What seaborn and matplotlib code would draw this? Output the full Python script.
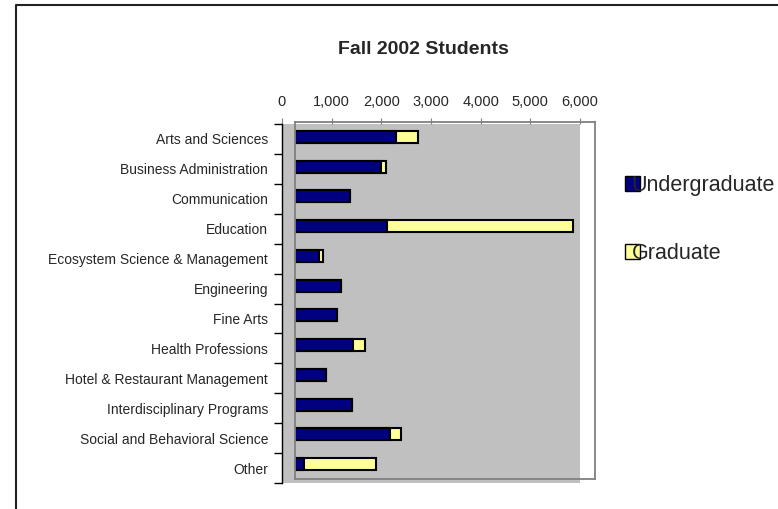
import numpy as np
import pandas
import seaborn as sns
import matplotlib.pyplot as plt
from matplotlib.patches import Patch
from matplotlib.lines import Line2D
from matplotlib.ticker import FuncFormatter

# chart data
categories = ["Arts and Sciences", "Business Administration", "Communication", "Education",
              "Ecosystem Science & Management", "Engineering", "Fine Arts", "Health Professions",
              "Hotel & Restaurant Management", "Interdisciplinary Programs",
              "Social and Behavioral Science", "Other"]
undergraduate = [2010, 1725, 1095, 1845, 470, 910, 845, 1150, 615, 1135, 1905, 170]
graduate = [455, 85, 0, 3710, 80, 0, 0, 250, 0, 0, 215, 1455]
xTicks = [0, 1000, 2000, 3000, 4000, 5000, 6000]

navy = "#000080"
paleYellow = "#FFFF99"
wallGray = "#C0C0C0"
frameGray = "#808080"


def main():
    sns.set_style("white")
    plt.rcParams['font.family'] = ['Liberation Sans', 'DejaVu Sans']

    W, H = 778, 509
    fig = plt.figure(figsize=(W / 100, H / 100), dpi=100)

    df = pandas.DataFrame({"Category": categories,
                           "Undergraduate": undergraduate,
                           "Graduate": graduate})
    df["Total"] = df["Undergraduate"] + df["Graduate"]

    # back wall (gray) carries the axis labels
    back = fig.add_axes([282 / W, 1 - 483 / H, 298 / W, 359 / H])
    back.set_facecolor(wallGray)
    back.set_xlim(0, 6000)
    back.set_ylim(len(categories) - 0.5, -0.5)
    for side in ["top", "right", "bottom"]:
        back.spines[side].set_visible(False)
    back.spines["left"].set_color("black")
    back.spines["left"].set_linewidth(1.0)
    back.xaxis.tick_top()
    back.set_xticks(xTicks)
    back.xaxis.set_major_formatter(FuncFormatter(lambda v, p: f"{int(v):,}"))
    back.tick_params(axis="x", top=True, bottom=False, length=4, color=frameGray,
                     labelsize=10.5, pad=7)
    back.set_yticks(range(len(categories)))
    back.set_yticklabels(categories)
    back.tick_params(axis="y", which="major", length=0, labelsize=10, pad=10)
    back.set_yticks(np.arange(len(categories) + 1) - 0.5, minor=True)
    back.tick_params(axis="y", which="minor", left=True, length=6, color="black", width=1)

    # front frame with the bars
    front = fig.add_axes([295 / W, 1 - 479 / H, 300 / W, 357 / H])
    front.set_facecolor("none")
    sns.barplot(data=df, x="Total", y="Category", color=paleYellow, width=0.4,
                edgecolor="black", linewidth=1.5, saturation=1, ax=front)
    sns.barplot(data=df, x="Undergraduate", y="Category", color=navy, width=0.4,
                edgecolor="black", linewidth=1.5, saturation=1, ax=front)
    front.set_xlim(0, 6000)
    front.set_ylim(len(categories) - 0.5, -0.5)
    front.set_xticks([])
    front.set_yticks([])
    front.set_xlabel("")
    front.set_ylabel("")
    for side in front.spines.values():
        side.set_visible(True)
        side.set_color(frameGray)
        side.set_linewidth(1.3)

    fig.text(423 / W, 1 - 49 / H, "Fall 2002 Students", ha="center", va="center",
             fontsize=14, fontweight="bold")

    handles = [Patch(facecolor=navy, edgecolor="black"),
               Patch(facecolor=paleYellow, edgecolor="black")]
    fig.legend(handles, ["Undergraduate", "Graduate"], loc="upper left",
               bbox_to_anchor=(625 / W, 1 - 175 / H), frameon=False, fontsize=15.5,
               handlelength=0.7, handleheight=0.7, handletextpad=-0.4,
               labelspacing=2.2, borderpad=0, borderaxespad=0)

    # outer chart border, clipped by the picture
    fig.add_artist(Line2D([16 / W, 16 / W, 1], [0, 1 - 5 / H, 1 - 5 / H],
                          transform=fig.transFigure, color="#222222", linewidth=1.5))

    fig.savefig("out.png", dpi=100)


main()
